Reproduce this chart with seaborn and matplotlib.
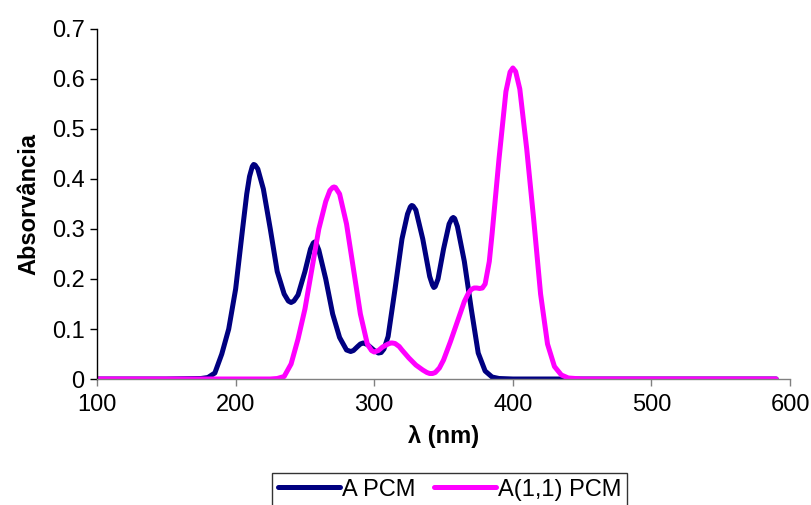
import matplotlib
matplotlib.use("Agg")
import matplotlib.pyplot as plt
from matplotlib.lines import Line2D
import seaborn as sns
import pandas as pd

# wavelengths (nm) and absorbance
wl_a = [100, 150, 175, 180, 185, 190, 195, 200, 205, 208, 210, 212, 213, 214, 216, 220, 225,
        230, 235, 238, 240, 242, 245, 250, 254, 256, 257, 258, 260, 265, 270, 275, 280, 283,
        285, 288, 290, 292, 295, 300, 303, 305, 307, 310, 315, 320, 324, 326, 327, 328, 330,
        335, 340, 342, 343, 344, 346, 350, 354, 356, 357, 358, 360, 365, 370, 375, 380, 385,
        390, 400, 450, 590]
abs_a = [0, 0, 0.001, 0.003, 0.012, 0.05, 0.10, 0.18, 0.30, 0.37, 0.405, 0.425, 0.429, 0.428,
         0.42, 0.38, 0.30, 0.215, 0.17, 0.156, 0.153, 0.156, 0.168, 0.215, 0.26, 0.272, 0.274,
         0.272, 0.258, 0.20, 0.13, 0.083, 0.058, 0.055, 0.057, 0.065, 0.07, 0.072, 0.069, 0.057,
         0.052, 0.053, 0.06, 0.085, 0.18, 0.28, 0.33, 0.344, 0.347, 0.346, 0.338, 0.28, 0.205,
         0.188, 0.183, 0.185, 0.2, 0.26, 0.31, 0.321, 0.323, 0.321, 0.305, 0.235, 0.14, 0.052,
         0.016, 0.004, 0.001, 0, 0, 0]

wl_b = [100, 225, 230, 235, 240, 245, 250, 255, 260, 265, 268, 270, 271, 272, 275, 280, 285,
        290, 295, 298, 300, 303, 306, 310, 312, 313, 315, 318, 320, 325, 330, 335, 338, 340,
        342, 344, 347, 350, 355, 360, 365, 368, 370, 372, 374, 376, 378, 380, 383, 385, 390,
        395, 398, 400, 402, 405, 410, 415, 420, 425, 430, 435, 440, 450, 590]
abs_b = [0, 0, 0.001, 0.005, 0.03, 0.08, 0.14, 0.22, 0.30, 0.355, 0.377, 0.383, 0.384, 0.383,
         0.37, 0.31, 0.22, 0.13, 0.07, 0.057, 0.054, 0.057, 0.064, 0.07, 0.072, 0.072, 0.071,
         0.065, 0.058, 0.042, 0.028, 0.018, 0.013, 0.011, 0.011, 0.013, 0.022, 0.038, 0.075,
         0.115, 0.155, 0.172, 0.179, 0.182, 0.182, 0.181, 0.182, 0.19, 0.235, 0.29, 0.44,
         0.575, 0.614, 0.622, 0.615, 0.58, 0.46, 0.32, 0.17, 0.07, 0.025, 0.008, 0.002, 0, 0]

series_names = ["A PCM", "A(1,1) PCM"]
series_colors = ["#000080", "#FF00FF"]
x_ticks = [100, 200, 300, 400, 500, 600]
y_ticks = [0, 0.1, 0.2, 0.3, 0.4, 0.5, 0.6, 0.7]
y_tick_labels = ["0", "0.1", "0.2", "0.3", "0.4", "0.5", "0.6", "0.7"]

df = pd.concat([
    pd.DataFrame({"wl": wl_a, "abs": abs_a, "serie": series_names[0]}),
    pd.DataFrame({"wl": wl_b, "abs": abs_b, "serie": series_names[1]}),
])

sns.set_theme(style="white")
plt.rcParams["font.family"] = ["Liberation Sans", "DejaVu Sans"]
plt.rcParams["text.color"] = "black"
plt.rcParams["axes.labelcolor"] = "black"

fig = plt.figure(figsize=(8.12, 5.05), dpi=100)
ax = fig.add_axes([0.1195, 0.2495, 0.8535, 0.6931])

LW = 3.6
sns.lineplot(data=df, x="wl", y="abs", hue="serie", palette=series_colors,
             hue_order=series_names, linewidth=LW, ax=ax, sort=False,
             estimator=None, legend=False)
for ln in ax.get_lines():
    ln.set_solid_joinstyle("round")
    ln.set_solid_capstyle("round")

ax.set_xlim(100, 600)
ax.set_ylim(0, 0.7)
ax.set_xticks(x_ticks)
ax.set_xticklabels([str(t) for t in x_ticks])
ax.set_yticks(y_ticks)
ax.set_yticklabels(y_tick_labels)
ax.tick_params(axis="both", direction="out", length=5, width=1, labelsize=17,
               colors="black", bottom=True, left=True)
ax.tick_params(axis="x", color="#808080", pad=6)
ax.tick_params(axis="y", pad=4)
for s in ["top", "right"]:
    ax.spines[s].set_visible(False)
ax.spines["left"].set_color("black")
ax.spines["bottom"].set_color("#808080")
ax.spines["left"].set_linewidth(1)
ax.spines["bottom"].set_linewidth(1)

ax.set_xlabel("λ (nm)", fontsize=17, fontweight="bold", labelpad=6, color="black")
ax.set_ylabel("Absorvância", fontsize=17, fontweight="bold", labelpad=8, color="black")

handles = [Line2D([0], [0], color=c, linewidth=LW) for c in series_colors]
leg = fig.legend(handles, series_names, loc="upper center",
                 bbox_to_anchor=(0.554, 0.064), ncol=2, fontsize=17,
                 frameon=True, fancybox=False, handlelength=2.6,
                 handletextpad=0.1, columnspacing=0.8, borderpad=0.25,
                 borderaxespad=0, labelcolor="black")
leg.get_frame().set_edgecolor("black")
leg.get_frame().set_linewidth(1)

fig.savefig("out.png", dpi=100)
